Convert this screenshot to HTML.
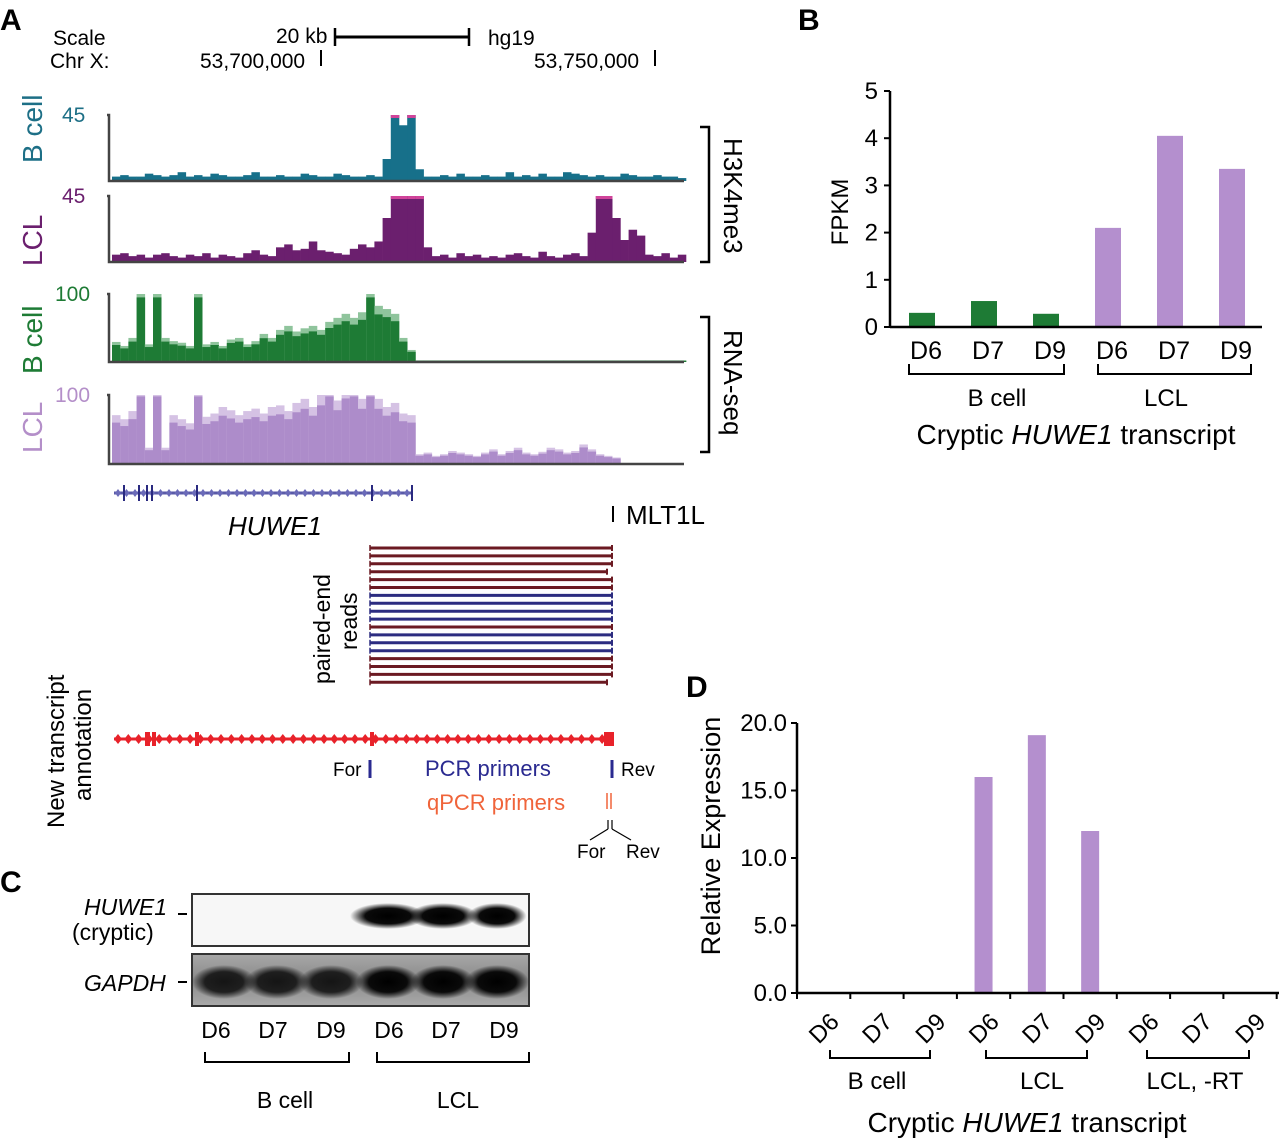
<!DOCTYPE html>
<html><head><meta charset="utf-8"><style>
body{margin:0;background:#fff}
svg{display:block;font-family:"Liberation Sans",Arial,sans-serif}
</style></head><body>
<svg id="fig" width="1280" height="1139" viewBox="0 0 1280 1139">
<defs>
<radialGradient id="band" cx="50%" cy="50%" r="50%"><stop offset="0" stop-color="#000"/><stop offset="0.6" stop-color="#0a0a0a"/><stop offset="1" stop-color="#000" stop-opacity="0"/></radialGradient>
<linearGradient id="gelbg" x1="0" y1="0" x2="0" y2="1"><stop offset="0" stop-color="#a8a8a8"/><stop offset="0.5" stop-color="#8a8a8a"/><stop offset="1" stop-color="#aaa"/></linearGradient>
</defs>
<text x="0" y="30" font-size="30" font-weight="bold">A</text>
<text x="798" y="30" font-size="30" font-weight="bold">B</text>
<text x="0" y="892" font-size="30" font-weight="bold">C</text>
<text x="686" y="697" font-size="30" font-weight="bold">D</text>

<g font-size="21">
<text x="53" y="45">Scale</text><text x="50" y="68">Chr X:</text>
<text x="276" y="43">20 kb</text>
<line x1="335" y1="37" x2="469" y2="37" stroke="#000" stroke-width="3"/>
<line x1="335" y1="28" x2="335" y2="46" stroke="#000" stroke-width="2.5"/>
<line x1="469" y1="28" x2="469" y2="46" stroke="#000" stroke-width="2.5"/>
<text x="488" y="45">hg19</text>
<text x="200" y="68">53,700,000</text><line x1="321" y1="50" x2="321" y2="66" stroke="#000" stroke-width="2"/>
<text x="534" y="68">53,750,000</text><line x1="655" y1="50" x2="655" y2="66" stroke="#000" stroke-width="2"/>
</g>

<g id="tracks"></g>

<g font-size="28">
<text transform="translate(42,163) rotate(-90)" fill="#1d6f86">B cell</text>
<text transform="translate(42,266) rotate(-90)" fill="#6b1f6e">LCL</text>
<text transform="translate(42,374) rotate(-90)" fill="#1e7b35">B cell</text>
<text transform="translate(42,453) rotate(-90)" fill="#b48fc9">LCL</text>
</g>
<g font-size="21">
<text x="62" y="122" fill="#1d6f86">45</text>
<text x="62" y="203" fill="#6b1f6e">45</text>
<text x="55" y="301" fill="#1e7b35">100</text>
<text x="55" y="402" fill="#b48fc9">100</text>
</g>
<g stroke="#000" stroke-width="2.5" fill="none">
<polyline points="700,127 709,127 709,262 700,262"/>
<polyline points="700,317 709,317 709,452 700,452"/>
</g>
<text transform="translate(724,138) rotate(90)" font-size="26">H3K4me3</text>
<text transform="translate(724,330) rotate(90)" font-size="26">RNA-seq</text>

<g>
<line x1="114" y1="493" x2="413" y2="493" stroke="#5a5aa8" stroke-width="3"/>
<g id="huweTicks"></g>
<text x="228" y="535" font-size="26" font-style="italic">HUWE1</text>
</g>
<line x1="613" y1="506" x2="613" y2="522" stroke="#000" stroke-width="2"/>
<text x="626" y="524" font-size="26">MLT1L</text>

<g id="reads"></g>
<text transform="translate(330,684) rotate(-90)" font-size="23"><tspan x="0" y="0">paired-end</tspan><tspan x="34" y="27">reads</tspan></text>

<text transform="translate(64,828) rotate(-90)" font-size="24"><tspan x="0" y="0">New transcript</tspan><tspan x="27" y="27">annotation</tspan></text>
<g>
<line x1="114" y1="739" x2="612" y2="739" stroke="#e8222a" stroke-width="3"/>
<g id="newTicks"></g>
</g>
<g font-size="19">
<text x="333" y="776">For</text><line x1="370" y1="760" x2="370" y2="778" stroke="#2a2a90" stroke-width="3"/>
<text x="425" y="776" font-size="22" fill="#2a2a90">PCR primers</text>
<line x1="612" y1="760" x2="612" y2="778" stroke="#2a2a90" stroke-width="3"/><text x="621" y="776">Rev</text>
<text x="427" y="810" font-size="22" fill="#f0643a">qPCR primers</text>
<line x1="607" y1="793" x2="607" y2="809" stroke="#f0643a" stroke-width="1.5"/><line x1="611" y1="793" x2="611" y2="809" stroke="#f0643a" stroke-width="1.5"/>
<line x1="608" y1="820" x2="608" y2="829" stroke="#000" stroke-width="1.2"/><line x1="612" y1="820" x2="612" y2="829" stroke="#000" stroke-width="1.2"/>
<polyline points="590,840 608,829" stroke="#000" fill="none" stroke-width="1.2"/><polyline points="612,829 631,840" stroke="#000" fill="none" stroke-width="1.2"/>
<text x="577" y="858">For</text><text x="626" y="858">Rev</text>
</g>

<g>
<text x="84" y="915" font-size="23" font-style="italic">HUWE1</text>
<text x="72" y="940" font-size="23">(cryptic)</text>
<line x1="178" y1="914" x2="187" y2="914" stroke="#000" stroke-width="2"/>
<text x="84" y="991" font-size="23" font-style="italic">GAPDH</text>
<line x1="178" y1="982" x2="187" y2="982" stroke="#000" stroke-width="2"/>
<rect x="192" y="894" width="337" height="52" fill="#f7f7f7" stroke="#333" stroke-width="2"/>
<rect x="192" y="954" width="337" height="52" fill="url(#gelbg)" stroke="#333" stroke-width="2"/>
<g id="gelBands"></g>
<g font-size="23" id="gelLabels"></g>
<polyline points="205,1052 205,1062 349,1062 349,1052" stroke="#000" stroke-width="2" fill="none"/>
<polyline points="377,1052 377,1062 529,1062 529,1052" stroke="#000" stroke-width="2" fill="none"/>
<text x="285" y="1108" font-size="23" text-anchor="middle">B cell</text>
<text x="458" y="1108" font-size="23" text-anchor="middle">LCL</text>
</g>

<g id="chartB"></g>
<g id="chartD"></g>
</svg>
<script>
// ---------- Chart B data ----------
const bCategories=["D6","D7","D9","D6","D7","D9"];
const bGroups=["B cell","B cell","B cell","LCL","LCL","LCL"];
const bValues=[0.3,0.55,0.28,2.1,4.05,3.35];
const bTicks=[0,1,2,3,4,5];
// ---------- Chart D data ----------
const dCategories=["D6","D7","D9","D6","D7","D9","D6","D7","D9"];
const dValues=[0,0,0,16.0,19.1,12.0,0,0,0];
const dTicks=["0.0","5.0","10.0","15.0","20.0"];
// ---------- Genome track data (coarse bins, 70 per track) ----------
const k4Bcell=[3,4,3,3,5,4,3,4,6,3,4,3,5,4,3,3,4,6,3,3,4,3,3,5,4,3,3,5,4,3,3,4,3,15,55,38,55,8,3,3,4,3,5,3,3,4,3,3,6,3,4,3,5,3,3,6,5,4,3,4,3,3,5,4,3,3,4,3,3,2];
const k4Lcl=[5,6,4,5,3,5,6,4,3,5,4,6,3,5,4,3,6,8,5,4,10,12,8,9,14,8,7,6,5,9,12,10,14,30,60,45,60,55,10,4,5,3,6,4,5,3,4,3,5,6,4,3,7,4,3,5,6,4,20,50,45,30,15,22,18,5,4,6,3,5];
const rnaBcell=[25,20,30,95,22,95,30,26,24,20,95,22,25,20,28,30,22,26,35,30,40,45,38,42,45,40,50,55,60,55,62,95,70,66,60,30,15,2,2,2,2,2,2,2,2,2,2,2,2,2,2,2,2,2,2,2,2,2,2,2,2,2,2,2,2,2,2,2,2,2];
const rnaLcl=[60,55,65,98,20,98,20,60,55,50,98,58,62,70,66,60,65,68,62,70,72,65,75,80,70,85,98,78,95,98,80,98,80,70,75,62,60,12,14,10,12,16,14,12,10,14,18,12,16,20,14,12,15,20,18,14,16,24,18,12,10,8,0,0,0,0,0,0,0,0];

const NS="http://www.w3.org/2000/svg";
function mk(tag,attrs,parent){const e=document.createElementNS(NS,tag);for(const k in attrs)e.setAttribute(k,attrs[k]);parent.appendChild(e);return e;}

const tracks=document.getElementById('tracks');
const tdefs=[
 {d:k4Bcell,max:45,top:115,base:181,col:"#17708a",light:null,name:"h3k4me3-bcell-track"},
 {d:k4Lcl,max:45,top:196,base:262,col:"#6b1f6e",light:null,name:"h3k4me3-lcl-track"},
 {d:rnaBcell,max:100,top:294,base:362,col:"#1e7b35",light:"#8fc49c",name:"rnaseq-bcell-track"},
 {d:rnaLcl,max:100,top:395,base:464,col:"#ad8cca",light:"#d5c2e4",name:"rnaseq-lcl-track"}];
const tx0=112, tx1=686;
tdefs.forEach(t=>{
 const g=mk('g',{},tracks);
 
 
 const bw=(tx1-tx0)/t.d.length;
 const ys=v=>t.base-Math.min(v,t.max)/t.max*(t.base-t.top);
 t.d.forEach((v,i)=>{
  if(v<=0)return;
  const x=tx0+i*bw, y=ys(v);
  if(t.light){const y2=ys(v*1.18);mk('rect',{x:x,y:y2,width:bw+0.3,height:t.base-y2,fill:t.light},g);}
  const r=mk('rect',{x:x,y:y,width:bw+0.3,height:t.base-y,fill:t.col},g);
  
  
  if(v>=t.max)mk('rect',{x:x,y:t.top,width:bw+0.3,height:3,fill:"#d0449a"},g);
 });
 mk('polyline',{points:`${tx0-5},${t.top} ${tx0-3},${t.top} ${tx0-3},${t.base} ${tx1-2},${t.base}`,stroke:"#444",'stroke-width':2.5,fill:"none"},g);
});

const ht=document.getElementById('huweTicks');
for(let x=118;x<410;x+=8.5)mk('path',{d:`M${x-3},493 l3,-4 l3,4 l-3,4z`,fill:"#6a6ab8"},ht);
[124,139,147,152,197,372,412].forEach(x=>mk('line',{x1:x,y1:485,x2:x,y2:501,stroke:"#2a2a80",'stroke-width':2},ht));
const nt=document.getElementById('newTicks');
for(let x=118;x<608;x+=10.3)mk('path',{d:`M${x-4},739 l4,-5 l4,5 l-4,5z`,fill:"#e8222a"},nt);
[[145,5],[152,4],[195,4],[370,4],[604,10]].forEach(([x,w])=>mk('rect',{x:x,y:732,width:w,height:14,fill:"#e8222a"},nt));

const reads=document.getElementById('reads');
const readCols="RRRRRRBBBBRBBBRRR".split('');
readCols.push('R');
readCols.forEach((c,i)=>{
 const y=548+i*7.9;
 const col=c==='R'?"#6b1a22":"#2c2c80";
 const xe=(i===3||i===17)?607:612;
 mk('line',{x1:370,y1:y,x2:xe,y2:y,stroke:col,'stroke-width':3},reads);
 mk('line',{x1:370,y1:y-3,x2:370,y2:y+3,stroke:col,'stroke-width':1.5},reads);
 mk('line',{x1:xe,y1:y-3,x2:xe,y2:y+3,stroke:col,'stroke-width':2},reads);
});

const gb=document.getElementById('gelBands');
const laneX=[224,277,331,388,443,497];
const huweBand=[0,0,0,1,0.9,0.75];
laneX.forEach((x,i)=>{
 if(huweBand[i]>0)mk('ellipse',{cx:x,cy:916,rx:34*huweBand[i]+4,ry:13,fill:"url(#band)"},gb);
 mk('ellipse',{cx:x,cy:982,rx:32,ry:17,fill:"url(#band)",opacity:i<3?0.85:1},gb);
});
const gl=document.getElementById('gelLabels');
["D6","D7","D9","D6","D7","D9"].forEach((l,i)=>{const t=mk('text',{x:[216,273,331,389,446,504][i],y:1038,'text-anchor':'middle'},gl);t.textContent=l;});

(function(){
 const g=document.getElementById('chartB');
 const x0=890,xEnd=1262,y0=327,yTop=91,maxV=5;
 const ys=v=>y0-v/maxV*(y0-yTop);
 const step=62, first=922;
 const xc=i=>first+i*step;
 bValues.forEach((v,i)=>{
  const r=mk('rect',{x:xc(i)-13,y:ys(v),width:26,height:y0-ys(v),fill:bGroups[i]==="LCL"?"#b48fce":"#1e7b35"},g);
  
  
  const t=mk('text',{x:xc(i)+4,y:359,'font-size':25,'text-anchor':'middle'},g);t.textContent=bCategories[i];
 });
 mk('line',{x1:x0,y1:y0,x2:xEnd,y2:y0,stroke:"#000",'stroke-width':2.5},g);
 mk('line',{x1:x0,y1:y0,x2:x0,y2:yTop,stroke:"#000",'stroke-width':2.5},g);
 bTicks.forEach(v=>{
  mk('line',{x1:x0-6,y1:ys(v),x2:x0,y2:ys(v),stroke:"#000",'stroke-width':2},g);
  const t=mk('text',{x:x0-12,y:ys(v)+8,'font-size':24,'text-anchor':'end'},g);t.textContent=v;
 });
 const yl=mk('text',{transform:'translate(848,212) rotate(-90)','font-size':24,'text-anchor':'middle'},g);yl.textContent="FPKM";
 mk('polyline',{points:"909,364 909,374 1064,374 1064,364",stroke:"#000",'stroke-width':2,fill:"none"},g);
 mk('polyline',{points:"1098,364 1098,374 1251,374 1251,364",stroke:"#000",'stroke-width':2,fill:"none"},g);
 let t=mk('text',{x:997,y:406,'font-size':24,'text-anchor':'middle'},g);t.textContent="B cell";
 t=mk('text',{x:1166,y:406,'font-size':24,'text-anchor':'middle'},g);t.textContent="LCL";
 t=mk('text',{x:1076,y:444,'font-size':28,'text-anchor':'middle'},g);
 t.innerHTML='Cryptic <tspan font-style="italic">HUWE1</tspan> transcript';
})();

(function(){
 const g=document.getElementById('chartD');
 const x0=797,xEnd=1279,y0=993,yTop=723,maxV=20;
 const ys=v=>y0-v/maxV*(y0-yTop);
 const step=53.3;
 const xc=i=>x0+step*(i+0.5);
 dValues.forEach((v,i)=>{
  if(v>0){const r=mk('rect',{x:xc(i)-9,y:ys(v),width:18,height:y0-ys(v),fill:"#b48fce"},g);
  
  }
  const t=mk('text',{transform:`translate(${xc(i)+6},1034) rotate(-45)`,'font-size':24,'text-anchor':'middle'},g);t.textContent=dCategories[i];
 });
 mk('line',{x1:x0,y1:y0,x2:xEnd,y2:y0,stroke:"#000",'stroke-width':2.5},g);
 mk('line',{x1:x0,y1:y0,x2:x0,y2:yTop,stroke:"#000",'stroke-width':2.5},g);
 for(let i=0;i<=dCategories.length;i++)mk('line',{x1:x0+step*i,y1:y0,x2:x0+step*i,y2:y0+6,stroke:"#000",'stroke-width':2},g);
 dTicks.forEach(l=>{const v=parseFloat(l);
  mk('line',{x1:x0-6,y1:ys(v),x2:x0,y2:ys(v),stroke:"#000",'stroke-width':2},g);
  const t=mk('text',{x:x0-10,y:ys(v)+8,'font-size':24,'text-anchor':'end'},g);t.textContent=l;});
 const yl=mk('text',{transform:'translate(720,836) rotate(-90)','font-size':27,'text-anchor':'middle'},g);yl.textContent="Relative Expression";
 [[830,930],[986,1087],[1147,1249]].forEach(([a,b])=>mk('polyline',{points:`${a},1050 ${a},1058 ${b},1058 ${b},1050`,stroke:"#000",'stroke-width':2,fill:"none"},g));
 [["B cell",877],["LCL",1042],["LCL, -RT",1195]].forEach(([s,x])=>{const t=mk('text',{x:x,y:1089,'font-size':24,'text-anchor':'middle'},g);t.textContent=s;});
 const t=mk('text',{x:1027,y:1132,'font-size':28,'text-anchor':'middle'},g);
 t.innerHTML='Cryptic <tspan font-style="italic">HUWE1</tspan> transcript';
})();
</script>
</body></html>
